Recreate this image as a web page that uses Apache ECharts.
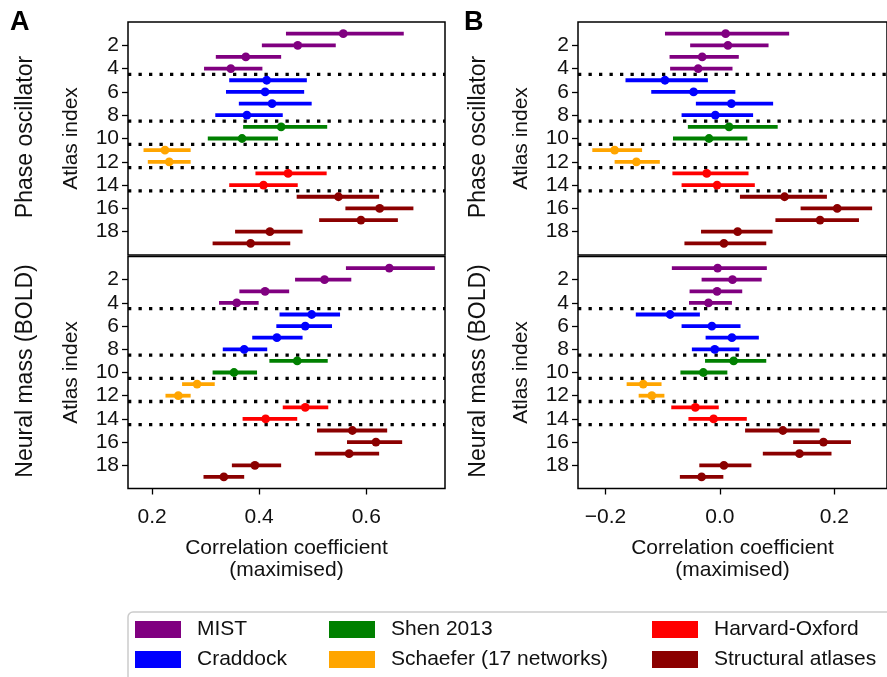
<!DOCTYPE html>
<html>
<head>
<meta charset="utf-8">
<title>Atlas correlation</title>
<script src="https://cdn.jsdelivr.net/npm/echarts@6/dist/echarts.min.js"></script>
<style>
	html, body { margin: 0; padding: 0; background: #fff; }
	#main { width: 887px; height: 677px; }
</style>
</head>
<body>
<div id="main"></div>
<script>
// atlas index 1..19 and the atlas family each one belongs to
var atlasIndex = [1, 2, 3, 4, 5, 6, 7, 8, 9, 10, 11, 12, 13, 14, 15, 16, 17, 18, 19];
var atlasGroup = ['MIST', 'MIST', 'MIST', 'MIST',
	'Craddock', 'Craddock', 'Craddock', 'Craddock',
	'Shen 2013', 'Shen 2013',
	'Schaefer (17 networks)', 'Schaefer (17 networks)',
	'Harvard-Oxford', 'Harvard-Oxford',
	'Structural atlases', 'Structural atlases', 'Structural atlases', 'Structural atlases', 'Structural atlases'];
var groupNames = ['MIST', 'Craddock', 'Shen 2013', 'Schaefer (17 networks)', 'Harvard-Oxford', 'Structural atlases'];
var groupColors = ['#800080', '#0000ff', '#008000', '#ffa500', '#ff0000', '#8b0000'];
var groupBorders = [4.5, 8.5, 10.5, 12.5, 14.5];

// A - phase oscillator
var aPhaseMean = [0.557, 0.472, 0.375, 0.347, 0.414, 0.411, 0.424, 0.377, 0.441, 0.368, 0.224, 0.232, 0.454, 0.408, 0.548, 0.625, 0.590, 0.420, 0.384];
var aPhaseLow  = [0.450, 0.405, 0.319, 0.297, 0.344, 0.338, 0.362, 0.318, 0.370, 0.304, 0.184, 0.192, 0.393, 0.344, 0.470, 0.561, 0.512, 0.355, 0.313];
var aPhaseHigh = [0.670, 0.543, 0.441, 0.406, 0.489, 0.484, 0.498, 0.444, 0.527, 0.435, 0.272, 0.272, 0.526, 0.472, 0.624, 0.688, 0.659, 0.481, 0.458];
// A - neural mass (BOLD)
var aBoldMean = [0.643, 0.522, 0.411, 0.358, 0.498, 0.486, 0.433, 0.372, 0.471, 0.353, 0.284, 0.249, 0.486, 0.412, 0.574, 0.618, 0.568, 0.392, 0.334];
var aBoldLow  = [0.562, 0.467, 0.363, 0.325, 0.438, 0.432, 0.387, 0.332, 0.419, 0.313, 0.256, 0.225, 0.444, 0.369, 0.508, 0.564, 0.504, 0.349, 0.296];
var aBoldHigh = [0.728, 0.572, 0.456, 0.399, 0.551, 0.536, 0.481, 0.415, 0.528, 0.396, 0.317, 0.272, 0.529, 0.471, 0.639, 0.667, 0.624, 0.441, 0.372];
// B - phase oscillator
var bPhaseMean = [0.010, 0.014, -0.031, -0.038, -0.096, -0.046, 0.020, -0.008, 0.016, -0.019, -0.184, -0.146, -0.023, -0.005, 0.113, 0.205, 0.175, 0.031, 0.007];
var bPhaseLow  = [-0.096, -0.052, -0.088, -0.087, -0.165, -0.120, -0.042, -0.067, -0.056, -0.082, -0.223, -0.184, -0.083, -0.067, 0.035, 0.141, 0.097, -0.033, -0.062];
var bPhaseHigh = [0.121, 0.085, 0.033, 0.022, -0.021, 0.027, 0.093, 0.058, 0.101, 0.048, -0.136, -0.105, 0.050, 0.061, 0.187, 0.266, 0.243, 0.092, 0.081];
// B - neural mass (BOLD)
var bBoldMean = [-0.004, 0.022, -0.005, -0.020, -0.087, -0.014, 0.021, -0.009, 0.024, -0.029, -0.134, -0.119, -0.043, -0.011, 0.110, 0.181, 0.139, 0.007, -0.032];
var bBoldLow  = [-0.084, -0.032, -0.053, -0.054, -0.147, -0.067, -0.025, -0.049, -0.026, -0.069, -0.163, -0.142, -0.085, -0.055, 0.044, 0.128, 0.075, -0.036, -0.070];
var bBoldHigh = [0.082, 0.073, 0.039, 0.021, -0.035, 0.036, 0.068, 0.034, 0.081, 0.013, -0.102, -0.097, -0.002, 0.047, 0.174, 0.229, 0.195, 0.055, 0.006];

var yTicks = [2, 4, 6, 8, 10, 12, 14, 16, 18];
var aTicks = [0.2, 0.4, 0.6];
var bTicks = [-0.2, 0, 0.2];

var panels = [
	{ mean: aPhaseMean, low: aPhaseLow, high: aPhaseHigh },
	{ mean: aBoldMean, low: aBoldLow, high: aBoldHigh },
	{ mean: bPhaseMean, low: bPhaseLow, high: bPhaseHigh },
	{ mean: bBoldMean, low: bBoldLow, high: bBoldHigh }
];

var font = "'Liberation Sans', Arial, sans-serif";
var chart = echarts.init(document.getElementById('main'));

// horizontal error bar with a dot at the estimate
function renderErr(params, api) {
	var y = api.value(0);
	var c = api.coord([api.value(1), y]);
	var lo = api.coord([api.value(2), y]);
	var hi = api.coord([api.value(3), y]);
	var col = api.visual('color');
	return {
		type: 'group',
		children: [
			{ type: 'line', shape: { x1: lo[0], y1: lo[1], x2: hi[0], y2: hi[1] }, style: { stroke: col, lineWidth: 3.8 } },
			{ type: 'circle', shape: { cx: c[0], cy: c[1], r: 4.4 }, style: { fill: col } }
		]
	};
}

// dotted separators between atlas families
function renderSep(params, api) {
	var cs = params.coordSys;
	var y = api.coord([0, api.value(0)])[1];
	return {
		type: 'line',
		shape: { x1: cs.x, y1: y, x2: cs.x + cs.width, y2: y },
		style: { stroke: '#000', lineWidth: 3.3, lineDash: [3.3, 7.2] }
	};
}

var grids = [
	{ left: 128, top: 22, width: 317, height: 233 },
	{ left: 128, top: 256.5, width: 317, height: 232 },
	{ left: 578, top: 22, width: 320, height: 233 },
	{ left: 578, top: 256.5, width: 320, height: 232 }
];
grids.forEach(function(g) {
	g.show = true;
	g.borderColor = '#000';
	g.borderWidth = 1.5;
	g.backgroundColor = 'transparent';
});

function tickFmt(v) {
	return (v < 0 ? '\u2212' : '') + Math.abs(v).toFixed(1);
}

var xAxes = [];
var yAxes = [];
for (var p = 0; p < 4; p++) {
	var isA = p < 2;
	var isBottom = p % 2 == 1;
	var ticks = isA ? aTicks : bTicks;
	xAxes.push({
		type: 'value',
		gridIndex: p,
		position: 'bottom',
		min: isA ? 0.155 : -0.248,
		max: isA ? 0.747 : 0.292,
		axisLine: { show: false, onZero: false },
		splitLine: { show: false },
		axisTick: { show: isBottom, customValues: ticks, length: 6, lineStyle: { color: '#000', width: 1.3 } },
		axisLabel: { show: isBottom, customValues: ticks, formatter: tickFmt, fontSize: 21, color: '#111', margin: 18, fontFamily: font },
		name: isBottom ? 'Correlation coefficient\n(maximised)' : '',
		nameLocation: 'middle',
		nameGap: 49,
		nameTextStyle: { fontSize: 21, lineHeight: 22, color: '#111', fontFamily: font }
	});
	yAxes.push({
		type: 'value',
		gridIndex: p,
		position: 'left',
		inverse: true,
		min: 0,
		max: 20,
		axisLine: { show: false, onZero: false },
		splitLine: { show: false },
		axisTick: { customValues: yTicks, length: 6, lineStyle: { color: '#000', width: 1.3 } },
		axisLabel: { customValues: yTicks, fontSize: 21, color: '#111', margin: 9, fontFamily: font },
		name: 'Atlas index',
		nameLocation: 'middle',
		nameGap: 46,
		nameTextStyle: { fontSize: 21, color: '#111', fontFamily: font }
	});
}

var series = [];
panels.forEach(function(pan, p) {
	series.push({
		type: 'custom',
		name: 'sep',
		xAxisIndex: p,
		yAxisIndex: p,
		renderItem: renderSep,
		encode: { y: 0 },
		data: groupBorders.map(function(b) { return [b]; }),
		silent: true,
		z: 1
	});
	groupNames.forEach(function(gName, gi) {
		var rows = [];
		for (var i = 0; i < atlasIndex.length; i++) {
			if (atlasGroup[i] == gName) {
				rows.push([atlasIndex[i], pan.mean[i], pan.low[i], pan.high[i]]);
			}
		}
		series.push({
			type: 'custom',
			name: gName,
			xAxisIndex: p,
			yAxisIndex: p,
			renderItem: renderErr,
			encode: { x: [1, 2, 3], y: 0 },
			itemStyle: { color: groupColors[gi] },
			data: rows,
			z: 2
		});
	});
});

// three little two-row legends
var legendLeft = [135, 329, 652];
var legends = [];
for (var k = 0; k < 3; k++) {
	legends.push({
		orient: 'vertical',
		left: legendLeft[k],
		top: 619,
		padding: 0,
		itemWidth: 46,
		itemHeight: 17,
		itemGap: 9,
		icon: 'rect',
		selectedMode: false,
		data: groupNames.slice(k * 2, k * 2 + 2),
		textStyle: { fontSize: 21, color: '#111', fontFamily: font, padding: [0, 0, 0, 11] }
	});
}

var option = {
	animation: false,
	textStyle: { fontFamily: font },
	grid: grids,
	xAxis: xAxes,
	yAxis: yAxes,
	legend: legends,
	series: series,
	graphic: [
		{ type: 'rect', shape: { x: 128, y: 612, width: 800, height: 80, r: 5 }, style: { fill: '#fff', stroke: '#cccccc', lineWidth: 1.5 }, z: 1 },
		{ type: 'text', left: 10, top: 9, style: { text: 'A', fontSize: 27, fontWeight: 'bold', fill: '#000', fontFamily: font } },
		{ type: 'text', left: 464, top: 9, style: { text: 'B', fontSize: 27, fontWeight: 'bold', fill: '#000', fontFamily: font } },
		{ type: 'text', x: 26, y: 137, rotation: Math.PI / 2, style: { text: 'Phase oscillator', fontSize: 23, fill: '#111', align: 'center', verticalAlign: 'middle', fontFamily: font } },
		{ type: 'text', x: 26, y: 371, rotation: Math.PI / 2, style: { text: 'Neural mass (BOLD)', fontSize: 23, fill: '#111', align: 'center', verticalAlign: 'middle', fontFamily: font } },
		{ type: 'text', x: 479, y: 137, rotation: Math.PI / 2, style: { text: 'Phase oscillator', fontSize: 23, fill: '#111', align: 'center', verticalAlign: 'middle', fontFamily: font } },
		{ type: 'text', x: 479, y: 371, rotation: Math.PI / 2, style: { text: 'Neural mass (BOLD)', fontSize: 23, fill: '#111', align: 'center', verticalAlign: 'middle', fontFamily: font } }
	]
};

chart.setOption(option);
</script>
</body>
</html>
